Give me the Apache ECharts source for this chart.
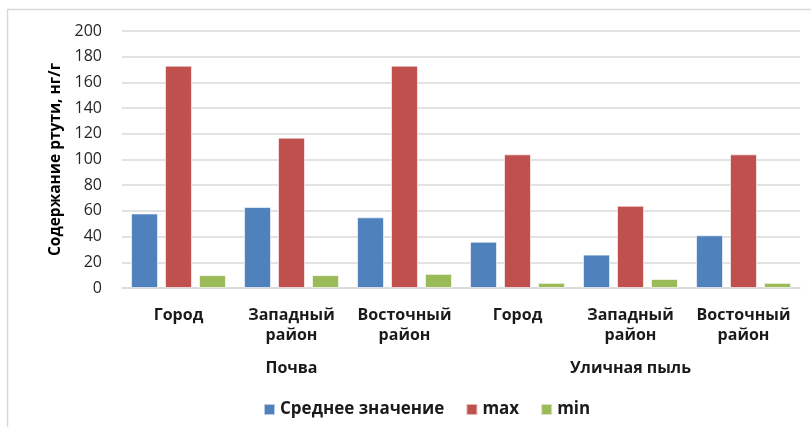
<!DOCTYPE html>
<html><head><meta charset="utf-8">
<script src="https://cdn.jsdelivr.net/npm/echarts@6/dist/echarts.min.js"></script>
<style>html,body{margin:0;padding:0;background:#fff}#c{width:811px;height:427px}</style>
</head><body><div id="c"></div>
<script>
const categories = ["Город", "Западный\nрайон", "Восточный\nрайон", "Город", "Западный\nрайон", "Восточный\nрайон"];
const groups = ["Почва", "Уличная пыль"];
const seriesNames = ["Среднее значение", "max", "min"];
const meanValues = [58, 63, 55, 36, 26, 41];
const maxValues = [173, 117, 173, 104, 64, 104];
const minValues = [10, 10, 11, 4, 7, 4];
const colors = ["#4F81BD", "#C0504D", "#9BBB59"];
const yAxisName = "Содержание ртути, нг/г";

const font = "'Open Sans', 'DejaVu Sans', sans-serif";
const chart = echarts.init(document.getElementById('c'));
const mk = (name, data, i) => ({
  name, type: 'bar', data, xAxisIndex: 0,
  barGap: '26%', barCategoryGap: '16%',
  itemStyle: { color: colors[i], borderColor: 'rgba(255,255,255,0.6)', borderWidth: 1 }
});
chart.setOption({
  animation: false,
  color: colors,
  textStyle: { fontFamily: font },
  graphic: [{ type: 'rect', shape: { x: 7.5, y: 9.5, width: 820, height: 440 },
    style: { fill: 'none', stroke: '#d9d9d9', lineWidth: 1.5 }, silent: true }],
  grid: { left: 122, right: 11, top: 31, bottom: 139 },
  legend: {
    data: seriesNames, top: 396, left: 258, itemWidth: 11, itemHeight: 11, itemGap: 21,
    icon: 'rect',
    textStyle: { fontFamily: font, fontSize: 17, fontWeight: 'bold', color: '#1a1a1a' }
  },
  xAxis: [{
    type: 'category', data: categories, position: 'bottom',
    axisLine: { lineStyle: { color: '#d9d9d9', width: 1.5 } },
    axisTick: { show: false },
    axisLabel: { interval: 0, margin: 17, fontFamily: font, fontSize: 16, fontWeight: 'bold', color: '#1a1a1a', lineHeight: 20 }
  }, {
    type: 'category', data: groups, position: 'bottom', offset: 62,
    axisLine: { show: false }, axisTick: { show: false },
    axisLabel: { interval: 0, margin: 10, fontFamily: font, fontSize: 16, fontWeight: 'bold', color: '#1a1a1a' }
  }],
  yAxis: {
    type: 'value', min: 0, max: 200, interval: 20,
    name: yAxisName, nameLocation: 'middle', nameGap: 58, nameRotate: 90,
    nameTextStyle: { fontFamily: font, fontSize: 15.5, fontWeight: 'bold', color: '#000' },
    axisLine: { show: false }, axisTick: { show: false },
    axisLabel: { margin: 20, fontFamily: font, fontSize: 16, color: '#262626' },
    splitLine: { lineStyle: { color: '#d9d9d9', width: 1.5 } }
  },
  series: [mk(seriesNames[0], meanValues, 0), mk(seriesNames[1], maxValues, 1), mk(seriesNames[2], minValues, 2)]
});
</script></body></html>
